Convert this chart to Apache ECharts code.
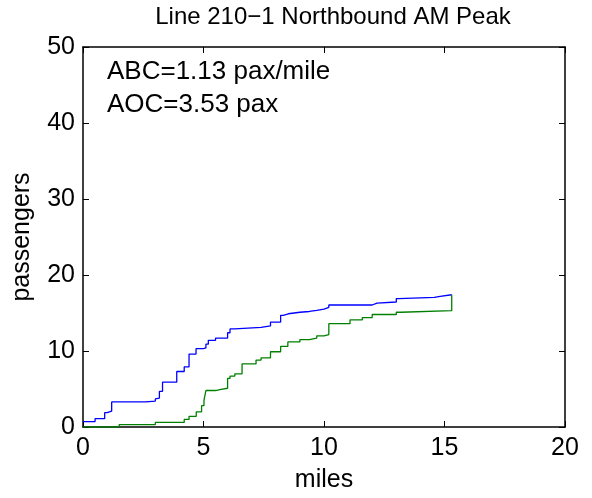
<!DOCTYPE html>
<html>
<head>
<meta charset="utf-8">
<script src="https://cdn.jsdelivr.net/npm/echarts@6/dist/echarts.min.js"></script>
<style>html,body{margin:0;padding:0;background:#fff;overflow:hidden;}#c{width:592px;height:498px;}</style>
</head>
<body>
<div id="c"></div>
<script>
var titleText = 'Line 210\u22121 Northbound AM Peak';
var xName = 'miles';
var yName = 'passengers';
var noteLines = ['ABC=1.13 pax/mile', 'AOC=3.53 pax'];
var xTicks = [0, 5, 10, 15, 20];
var yTicks = [0, 10, 20, 30, 40, 50];

var blueMiles = [0, 0.5, 0.9, 1.0, 1.19, 2.6, 3.0, 3.03, 3.17, 3.3, 3.89, 4.2, 4.4, 4.69, 5.0, 5.1, 5.2, 5.5, 6.0, 6.1, 6.3, 7.39, 7.78, 8.2, 8.31, 8.52, 9.0, 9.39, 9.7, 10.0, 10.2, 12.0, 12.2, 13.0, 13.1, 14.58, 14.82, 15.3];
var bluePax   = [0.7, 1.1, 1.9, 2.1, 3.3, 3.4, 3.7, 3.8, 4.7, 5.9, 7.3, 7.9, 9.6, 10.3, 10.4, 10.9, 11.4, 11.7, 12.4, 12.9, 13.1, 13.3, 13.8, 14.7, 14.9, 15.1, 15.2, 15.35, 15.5, 15.75, 16.05, 16.3, 16.45, 16.9, 17.05, 17.2, 17.4, 17.4];

var greenMiles = [0, 1.5, 3.0, 4.2, 4.4, 4.7, 4.92, 5.02, 5.1, 5.5, 5.73, 6.0, 6.1, 6.3, 6.6, 7.18, 7.39, 7.78, 8.2, 8.5, 9.0, 9.39, 9.7, 10.0, 10.2, 11.08, 11.59, 12.0, 13.0, 13.2, 15.3, 15.3];
var greenPax   = [0, 0.3, 0.6, 1.0, 1.4, 2.0, 2.8, 3.55, 4.8, 4.96, 5.1, 6.4, 6.7, 7.0, 8.3, 8.8, 9.1, 9.9, 10.6, 11.2, 11.5, 11.7, 12.0, 12.15, 13.6, 14.1, 14.4, 14.8, 15.1, 15.3, 15.3, 17.4];

function pairs(xs, ys) { return xs.map(function (x, i) { return [x, ys[i]]; }); }

var FONT = 'Liberation Sans';
var FS = 25;
var chart = echarts.init(document.getElementById('c'), null, { renderer: 'canvas', width: 592, height: 498 });

function baseAxis(extra) {
  var a = {
    type: 'value',
    axisLine: { show: true, onZero: false, lineStyle: { color: '#000', width: 1.5 } },
    axisTick: { show: true, inside: true, length: 6, lineStyle: { color: '#000', width: 1 } },
    splitLine: { show: false },
    axisLabel: { show: false }
  };
  for (var k in extra) a[k] = extra[k];
  return a;
}

var option = {
  backgroundColor: '#fff',
  animation: false,
  grid: { left: 83, top: 47, width: 482, height: 381, containLabel: false },
  xAxis: [
    baseAxis({
      position: 'bottom', min: xTicks[0], max: xTicks[xTicks.length - 1], interval: 5,
      name: xName, nameLocation: 'middle', nameGap: 41,
      nameTextStyle: { fontFamily: FONT, fontSize: FS, color: '#000' },
      axisLabel: { show: true, margin: 9, fontFamily: FONT, fontSize: FS, color: '#000' }
    }),
    baseAxis({ position: 'top', min: xTicks[0], max: xTicks[xTicks.length - 1], interval: 5 })
  ],
  yAxis: [
    baseAxis({
      position: 'left', min: yTicks[0], max: yTicks[yTicks.length - 1], interval: 10,
      name: yName, nameLocation: 'middle', nameGap: 48,
      nameTextStyle: { fontFamily: FONT, fontSize: FS, color: '#000' },
      axisLabel: { show: true, margin: 8, fontFamily: FONT, fontSize: FS, color: '#000' }
    }),
    baseAxis({ position: 'right', min: yTicks[0], max: yTicks[yTicks.length - 1], interval: 10 })
  ],
  graphic: [
    { type: 'text', x: 333, y: 5, style: { text: titleText, font: '24px "' + FONT + '"', fill: '#000', textAlign: 'center', textVerticalAlign: 'top' } },
    { type: 'text', x: 107, y: 59, style: { text: noteLines[0], font: '26px "' + FONT + '"', fill: '#000' } },
    { type: 'text', x: 107, y: 92, style: { text: noteLines[1], font: '26px "' + FONT + '"', fill: '#000' } }
  ],
  series: [
    { type: 'line', step: 'end', showSymbol: false, symbol: 'none', data: pairs(blueMiles, bluePax),
      lineStyle: { color: '#0000ff', width: 1.3 }, itemStyle: { color: '#0000ff' } },
    { type: 'line', step: 'end', showSymbol: false, symbol: 'none', data: pairs(greenMiles, greenPax),
      lineStyle: { color: '#008000', width: 1.3 }, itemStyle: { color: '#008000' } }
  ]
};
chart.setOption(option);
</script>
</body>
</html>
